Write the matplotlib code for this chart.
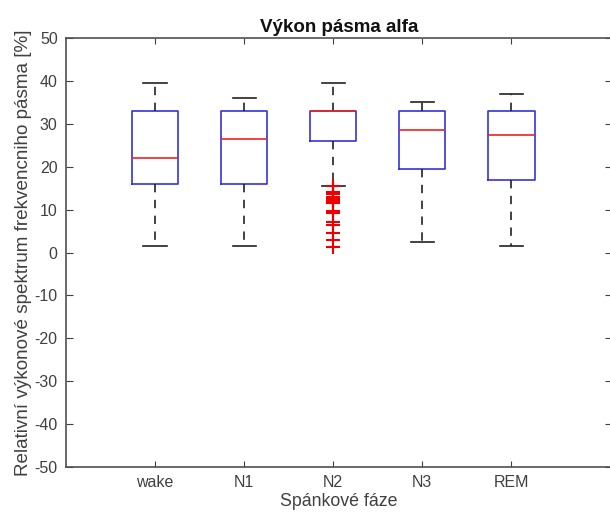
import matplotlib
matplotlib.use("Agg")
import matplotlib.pyplot as plt

plt.rcParams['font.family'] = ['Liberation Sans', 'DejaVu Sans']
plt.rcParams['axes.unicode_minus'] = False

categories = ["wake", "N1", "N2", "N3", "REM"]
whisker_low = [1.5, 1.5, 15.5, 2.5, 1.5]
q1 = [16.0, 16.0, 26.0, 19.5, 17.0]
median = [22.0, 26.5, 33.0, 28.5, 27.5]
q3 = [33.0, 33.0, 33.0, 33.0, 33.0]
whisker_high = [39.5, 36.0, 39.5, 35.0, 37.0]
outliers = [[], [],
            [15.5, 14.2, 13.6, 13.0, 12.5, 12.0, 11.5, 9.6, 9.2, 7.0, 6.5, 4.6, 3.0, 1.2],
            [], []]
yticks = list(range(-50, 51, 10))

stats = []
for i in range(len(categories)):
    stats.append(dict(label=categories[i], whislo=whisker_low[i], q1=q1[i],
                      med=median[i], q3=q3[i], whishi=whisker_high[i],
                      fliers=outliers[i]))

fig = plt.figure(figsize=(6.1, 5.2), dpi=100)
ax = fig.add_axes([66/610, 1-467/520, (612-66)/610, (467-38)/520])

positions = [1, 2, 3, 4, 5]
ax.bxp(stats, positions=positions, widths=0.52, capwidths=0.26,
       boxprops=dict(color='#3333dd', linewidth=1.2),
       medianprops=dict(color='#ee2222', linewidth=1.2),
       whiskerprops=dict(color='#222222', linestyle=(0, (5, 4.5)), linewidth=1.2),
       capprops=dict(color='#222222', linewidth=1.2),
       flierprops=dict(marker='+', markeredgecolor='#ee0000', markersize=9.5,
                       markeredgewidth=1.5, linestyle='none'))

ax.set_xlim(0, 6.13)
ax.set_ylim(-50, 50)
ax.set_yticks(yticks)
ax.set_xticks(positions)
ax.set_xticklabels(categories)
ax.tick_params(direction='in', top=True, right=True, labelsize=11.5,
               colors='#404040', length=4, width=0.8, pad=6)
ax.tick_params(axis='y', which='both', right=True, length=5)
for s in ax.spines.values():
    s.set_color('#505050')
    s.set_linewidth(1.2)

ax.set_title("Výkon pásma alfa", fontsize=13.5, fontweight='bold', color='#111111', pad=4)
ax.set_xlabel("Spánkové fáze", fontsize=12.8, color='#404040', labelpad=2)
ax.set_ylabel("Relativní výkonové spektrum frekvencniho pásma [%]", fontsize=13.6,
              color='#404040', labelpad=2)

fig.savefig("out.png", dpi=100)
